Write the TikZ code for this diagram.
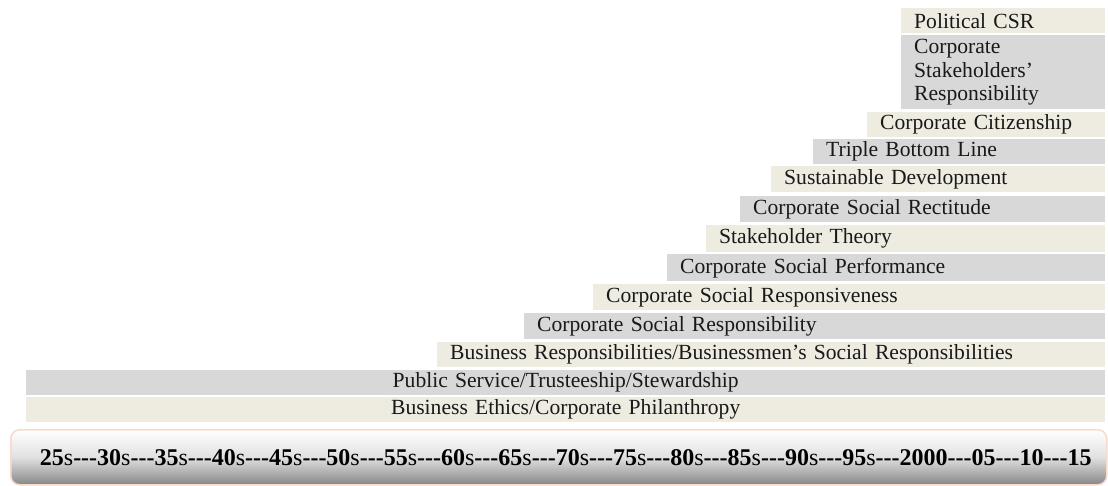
\documentclass[tikz,border=0pt]{standalone}
\usepackage{fontspec}
\setmainfont{Liberation Serif}
\definecolor{beige}{RGB}{238,235,225}
\definecolor{greybar}{RGB}{216,216,217}
\definecolor{peach}{RGB}{246,218,204}
\definecolor{darkgrey}{RGB}{135,135,135}
\begin{document}
\begin{tikzpicture}[x=1pt,y=-1pt,
  bar/.style={anchor=north west, inner xsep=13pt, inner ysep=0pt, align=left,
    font=\fontsize{21.6}{23.5}\selectfont, text=black!90},
  beigebar/.style={bar, fill=beige},
  greybarstyle/.style={bar, fill=greybar},
  wide/.style={align=center}
]
\useasboundingbox (0,0) rectangle (1108,486);
\newcommand{\rightedge}{1105}
\newcommand{\stagebar}[6]{%
  \node[#1, text width={\rightedge-#4-26}, minimum height={#3-#2}] (#5) at (#4,#2) {#6};}
\stagebar{beigebar}{8}{33}{901}{polcsr}{Political CSR}
\stagebar{greybarstyle}{35}{109}{901}{stakeresp}{Corporate\\Stakeholders'\\Responsibility}
\stagebar{beigebar}{112}{137}{867}{citizen}{Corporate Citizenship}
\stagebar{greybarstyle}{139}{164}{813}{triple}{Triple Bottom Line}
\stagebar{beigebar}{166}{192}{771}{sustain}{Sustainable Development}
\stagebar{greybarstyle}{196}{222}{740}{rectitude}{Corporate Social Rectitude}
\stagebar{beigebar}{225}{252}{706}{stheory}{Stakeholder Theory}
\stagebar{greybarstyle}{254}{281}{667}{csp}{Corporate Social Performance}
\stagebar{beigebar}{284}{310}{593}{csresp}{Corporate Social Responsiveness}
\stagebar{greybarstyle}{313}{339}{524}{csr}{Corporate Social Responsibility}
\stagebar{beigebar}{342}{367}{437}{bizresp}{Business Responsibilities/Businessmen's Social Responsibilities}
\stagebar{greybarstyle,wide}{370}{395}{26}{public}{Public Service/Trusteeship/Stewardship}
\stagebar{beigebar,wide}{397}{422}{26}{ethics}{Business Ethics/Corporate Philanthropy}
% timeline
\newcommand{\dsh}{\textbf{-{}-{}-}}
\newcommand{\dec}[1]{\textbf{#1}s}
\node[anchor=north west, minimum width=1096pt, minimum height=55pt, rounded corners=9pt,
  draw=peach, line width=1.5pt, top color=white, bottom color=darkgrey, middle color=black!12,
  inner sep=0pt, font=\fontsize{24}{28}\selectfont] (timeline) at (10,429)
  {\hspace*{14pt}\dec{25}\dsh\dec{30}\dsh\dec{35}\dsh\dec{40}\dsh\dec{45}\dsh\dec{50}\dsh\dec{55}\dsh\dec{60}\dsh\dec{65}\dsh\dec{70}\dsh\dec{75}\dsh\dec{80}\dsh\dec{85}\dsh\dec{90}\dsh\dec{95}\dsh\textbf{2000}\dsh\textbf{05}\dsh\textbf{10}\dsh\textbf{15}};
\end{tikzpicture}
\end{document}
